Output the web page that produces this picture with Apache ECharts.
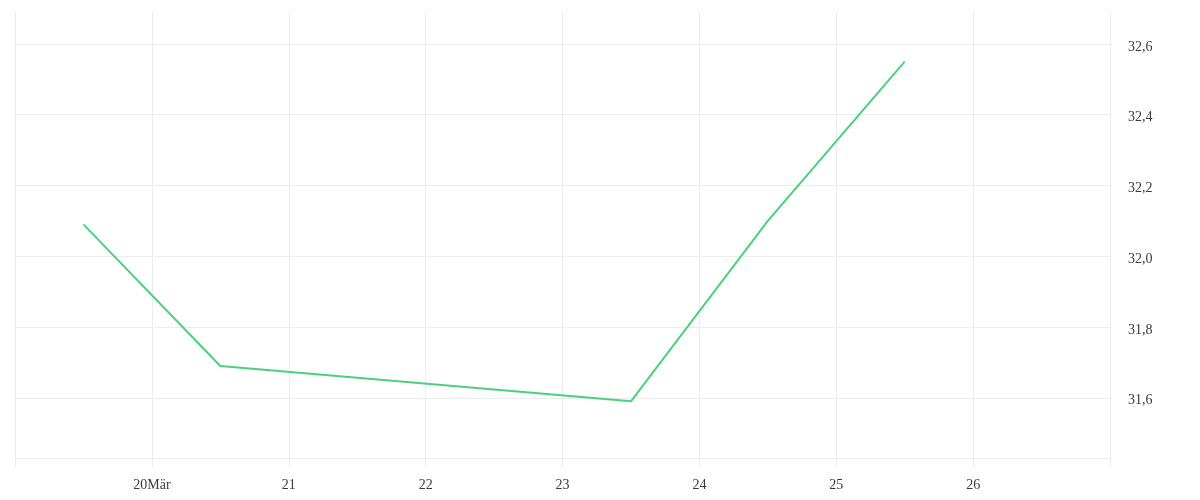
<!DOCTYPE html>
<html lang="de">

<head>
    <meta charset="UTF-8">
    <title>Kursverlauf</title>
    <script src="https://cdn.jsdelivr.net/npm/echarts@6/dist/echarts.min.js"></script>
    <style>
        html, body {
            margin: 0;
            padding: 0;
            background: #fff;
        }

        #kurs {
            width: 1200px;
            height: 500px;
        }
    </style>
</head>

<body>
    <div id="kurs"></div>
</body>
<script type="text/javascript">

    // Tage im März (12 Uhr = x.5)
    var tage = [19.5, 20.5, 23.5, 24.5, 25.5];
    var kurse = [32.09, 31.69, 31.59, 32.10, 32.55];
    // Beschriftung der Tagesticks von 19 bis 27
    var tagWerte = [19, 20, 21, 22, 23, 24, 25, 26, 27];
    var tagLabels = ['', '20Mär', '21', '22', '23', '24', '25', '26', ''];

    var punkte = [];
    for (var i = 0; i < tage.length; i++) {
        punkte.push([tage[i], kurse[i]]);
    }

    var gitter = '#ececec';
    var schrift = 'Liberation Serif, Times New Roman, serif';

    var kurs = echarts.init(document.getElementById('kurs'));
    kurs.setOption({
        animation: false,
        grid: {
            left: 15,
            right: 90,
            top: 12,
            bottom: 42,
            containLabel: false
        },
        xAxis: {
            type: 'value',
            min: 19,
            max: 27,
            interval: 1,
            axisLine: { show: true, lineStyle: { color: gitter, width: 1 } },
            axisTick: { show: true, length: 9, lineStyle: { color: gitter } },
            splitLine: { show: true, lineStyle: { color: gitter, width: 1 } },
            axisLabel: {
                margin: 20,
                color: '#3a3a3a',
                fontFamily: schrift,
                fontSize: 14,
                formatter: function (v) {
                    var idx = tagWerte.indexOf(Math.round(v));
                    return idx >= 0 ? tagLabels[idx] : '';
                }
            }
        },
        yAxis: {
            type: 'value',
            position: 'right',
            min: 31.43,
            max: 32.69,
            splitNumber: 6,
            axisLine: { show: false },
            axisTick: { show: false },
            splitLine: {
                show: true,
                showMinLine: false,
                showMaxLine: false,
                lineStyle: { color: gitter, width: 1 }
            },
            axisLabel: {
                margin: 18,
                color: '#3a3a3a',
                fontFamily: schrift,
                fontSize: 14,
                verticalAlign: 'top',
                padding: [-4, 0, 0, 0],
                showMinLabel: false,
                showMaxLabel: false,
                formatter: function (v) {
                    return v.toFixed(1).replace('.', ',');
                }
            }
        },
        series: [{
            name: 'Kurs',
            type: 'line',
            data: punkte,
            showSymbol: false,
            symbol: 'none',
            lineStyle: { color: '#4cd07d', width: 2 }
        }]
    });

</script>

</html>
